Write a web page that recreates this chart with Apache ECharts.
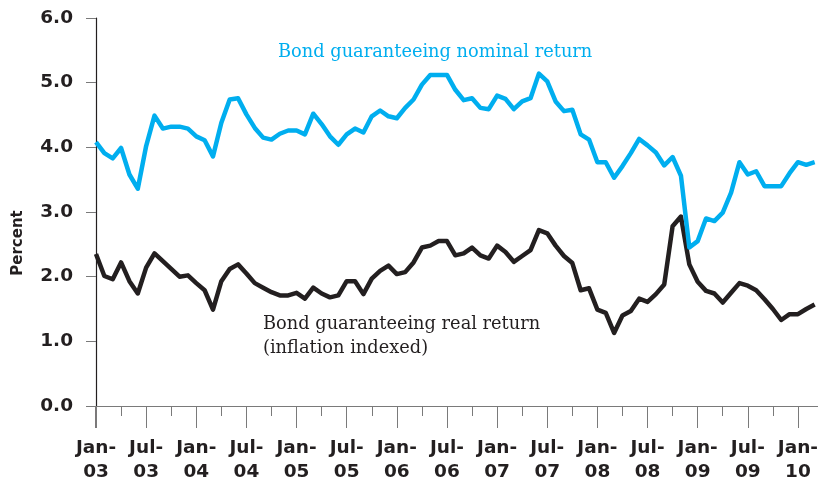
<!DOCTYPE html>
<html>
<head>
<meta charset="utf-8">
<script src="https://cdn.jsdelivr.net/npm/echarts@6/dist/echarts.min.js"></script>
<style>
  html, body { margin: 0; padding: 0; background: #fff; }
  #main { width: 818px; height: 478px; }
</style>
</head>
<body>
<div id="main"></div>
<script>
// monthly, Jan-03 .. Mar-10 (index 0 = Jan-03)
var nominal = [4.08, 3.91, 3.83, 3.99, 3.58, 3.36, 4.02, 4.49, 4.29, 4.32, 4.32, 4.29,
  4.17, 4.11, 3.86, 4.38, 4.74, 4.76, 4.51, 4.30, 4.15, 4.12, 4.21, 4.26,
  4.26, 4.20, 4.52, 4.36, 4.17, 4.04, 4.20, 4.29, 4.23, 4.48, 4.57, 4.48,
  4.45, 4.61, 4.74, 4.97, 5.12, 5.12, 5.12, 4.89, 4.73, 4.76, 4.61, 4.59,
  4.80, 4.75, 4.59, 4.71, 4.76, 5.14, 5.02, 4.71, 4.56, 4.58, 4.20, 4.12,
  3.77, 3.77, 3.53, 3.71, 3.91, 4.13, 4.03, 3.92, 3.72, 3.85, 3.56, 2.45,
  2.55, 2.90, 2.86, 2.99, 3.30, 3.77, 3.58, 3.63, 3.40, 3.40, 3.40, 3.60,
  3.77, 3.73, 3.77];
var real = [2.35, 2.01, 1.96, 2.22, 1.93, 1.74, 2.14, 2.36, 2.24, 2.12, 2.00, 2.02,
  1.90, 1.79, 1.49, 1.93, 2.12, 2.19, 2.05, 1.90, 1.83, 1.76, 1.71, 1.71,
  1.75, 1.66, 1.83, 1.74, 1.68, 1.71, 1.93, 1.93, 1.73, 1.97, 2.09, 2.17,
  2.04, 2.07, 2.22, 2.45, 2.48, 2.55, 2.55, 2.33, 2.36, 2.45, 2.33, 2.28,
  2.48, 2.38, 2.23, 2.32, 2.41, 2.72, 2.67, 2.48, 2.32, 2.21, 1.79, 1.82,
  1.49, 1.44, 1.13, 1.40, 1.47, 1.66, 1.61, 1.73, 1.88, 2.78, 2.93, 2.19,
  1.92, 1.78, 1.74, 1.60, 1.75, 1.90, 1.86, 1.79, 1.65, 1.50, 1.33, 1.42,
  1.42, 1.50, 1.57];

var majorTicks = [0, 6, 12, 18, 24, 30, 36, 42, 48, 54, 60, 66, 72, 78, 84];
var minorTicks = [3, 9, 15, 21, 27, 33, 39, 45, 51, 57, 63, 69, 75, 81];
var tickLabels = ['Jan-\n03', 'Jul-\n03', 'Jan-\n04', 'Jul-\n04', 'Jan-\n05', 'Jul-\n05',
  'Jan-\n06', 'Jul-\n06', 'Jan-\n07', 'Jul-\n07', 'Jan-\n08', 'Jul-\n08',
  'Jan-\n09', 'Jul-\n09', 'Jan-\n10'];

function pairs(arr) {
  return arr.map(function (v, i) { return [i, v]; });
}

var labelFont = 'DejaVu Sans';
var noteFont = 'DejaVu Serif';
var chart = echarts.init(document.getElementById('main'));
chart.setOption({
  animation: false,
  grid: { left: 96, right: 0, top: 18, bottom: 72, containLabel: false, outerBoundsMode: 'none' },
  xAxis: [{
    type: 'value', min: 0, max: 86.4,
    splitLine: { show: false },
    axisLine: { show: true, lineStyle: { color: '#7a7a7a', width: 1 } },
    axisTick: { show: true, length: 22, customValues: majorTicks, lineStyle: { color: '#7a7a7a' } },
    axisLabel: {
      customValues: majorTicks,
      margin: 30,
      fontFamily: labelFont, fontWeight: 'bold', fontSize: 18.5, lineHeight: 24,
      color: '#231f20',
      formatter: function (v) { return tickLabels[majorTicks.indexOf(Math.round(v))] || ''; }
    }
  }, {
    type: 'value', min: 0, max: 86.4, position: 'bottom',
    splitLine: { show: false },
    axisLine: { show: false },
    axisTick: { show: true, length: 10, customValues: minorTicks, lineStyle: { color: '#7a7a7a' } },
    axisLabel: { show: false }
  }],
  yAxis: {
    type: 'value', min: 0, max: 6, interval: 1,
    splitLine: { show: false },
    axisLine: { show: true, lineStyle: { color: '#231f20', width: 1.2 } },
    axisTick: { show: true, length: 10, lineStyle: { color: '#7a7a7a' } },
    axisLabel: {
      margin: 23,
      fontFamily: labelFont, fontWeight: 'bold', fontSize: 18.5,
      color: '#231f20',
      formatter: function (v) { return v.toFixed(1); }
    }
  },
  graphic: [
    { type: 'line', shape: { x1: 96, y1: 406, x2: 96, y2: 428 }, style: { stroke: '#231f20', lineWidth: 1.2 } },
    { type: 'text', x: 18, y: 243, rotation: Math.PI / 2,
      style: { text: 'Percent', fontFamily: labelFont, fontWeight: 'bold', fontSize: 15,
        fill: '#231f20', align: 'center', verticalAlign: 'middle' } },
    { type: 'text', x: 278, y: 52,
      style: { text: 'Bond guaranteeing nominal return', fontFamily: noteFont, fontSize: 17.8,
        fill: '#00aeef', align: 'left', verticalAlign: 'middle' } },
    { type: 'text', x: 263, y: 336,
      style: { text: 'Bond guaranteeing real return\n(inflation indexed)', fontFamily: noteFont,
        fontSize: 17.8, lineHeight: 24, fill: '#231f20', align: 'left', verticalAlign: 'middle' } }
  ],
  series: [{
    type: 'line', name: 'nominal', data: pairs(nominal), showSymbol: false,
    lineStyle: { color: '#00aeef', width: 4.5, join: 'round' }, z: 3
  }, {
    type: 'line', name: 'real', data: pairs(real), showSymbol: false,
    lineStyle: { color: '#231f20', width: 4.5, join: 'round' }, z: 2
  }]
});
</script>
</body>
</html>
